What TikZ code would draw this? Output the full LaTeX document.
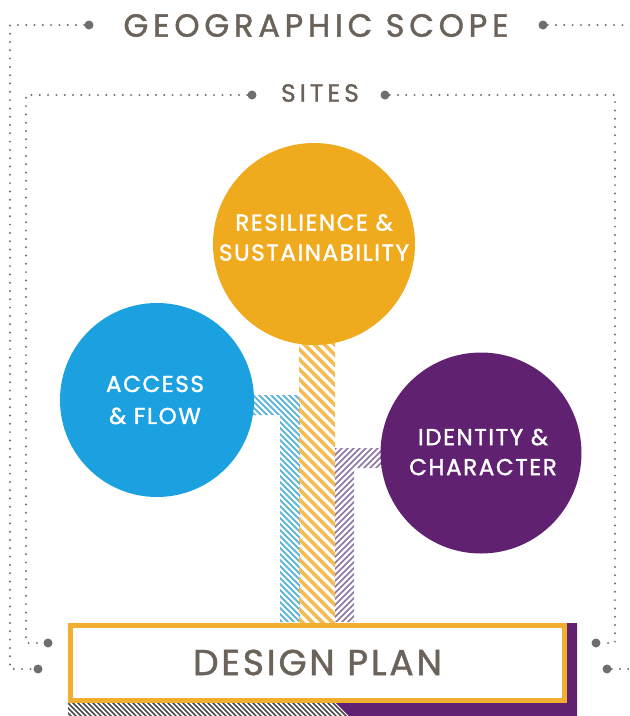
\documentclass[tikz,border=0pt]{standalone}
\usepackage{fontspec}
\setmainfont{Poppins}
\newfontfamily\headfont[LetterSpace=15,FakeBold=1.3]{Poppins}
\newfontfamily\sitesfont[LetterSpace=16,FakeBold=1.3]{Poppins}
\newfontfamily\planfont[LetterSpace=8,FakeBold=1.3]{Poppins}
\newfontfamily\circfont[LetterSpace=7,FakeBold=1.6]{Poppins}
\definecolor{txtgray}{HTML}{6B6259}
\definecolor{dotgray}{HTML}{6E6E6E}
\definecolor{corange}{HTML}{F0AA1E}
\definecolor{cblue}{HTML}{1BA0E0}
\definecolor{cpurple}{HTML}{5F2170}
\definecolor{borange}{HTML}{F2AE30}
\definecolor{sorange}{HTML}{F3BC55}
\definecolor{sblue}{HTML}{62B6DA}
\definecolor{spurple}{HTML}{8C74A2}
\definecolor{shatch}{HTML}{4A4A4A}
\tikzset{
  dotline/.style={draw=dotgray, line width=2.2pt, line cap=round, dash pattern=on 0pt off 8.3pt},
  bigdot/.style={circle, fill=dotgray, inner sep=0pt, minimum size=9pt},
  bubble/.style={circle, inner sep=0pt, minimum size=#1},
  bubtext/.style={text=white, font=\circfont\fontsize{23}{28}\selectfont, align=center, inner sep=0pt},
  headtext/.style={text=txtgray, inner sep=0pt},
}
\begin{document}
\begin{tikzpicture}[x=1pt,y=-1pt]
\useasboundingbox (0,0) rectangle (630,716);

% ---- outer frame: geographic scope
\node[headtext, font=\headfont\fontsize{32}{36}\selectfont] (geo) at (316,25.5) {GEOGRAPHIC SCOPE};
\node[bigdot] (gdl) at (89,25) {};
\node[bigdot] (gdr) at (543,25) {};
\node[bigdot] (gbl) at (38,669) {};
\node[bigdot] (gbr) at (607,669) {};
\coordinate (gtl) at (10,25);
\coordinate (gblc) at (10,669);
\coordinate (gtr) at (640,25);
\coordinate (gbrc) at (640,669);
\draw[dotline] (gdl) -- (gtl) -- (gblc) -- (gbl);
\draw[dotline] (gdr) -- (gtr);
\draw[dotline] (gbr) -- (gbrc);

% ---- inner frame: sites
\node[headtext, font=\sitesfont\fontsize{25}{30}\selectfont] (sites) at (320,93) {SITES};
\node[bigdot] (sdl) at (252,95) {};
\node[bigdot] (sdr) at (385,95) {};
\node[bigdot] (sbl) at (48,643) {};
\node[bigdot] (sbr) at (596,643) {};
\coordinate (stl) at (26,95);
\coordinate (sblc) at (26,643);
\coordinate (str) at (615,95);
\coordinate (sbrc) at (615,643);
\draw[dotline] (sdl) -- (stl) -- (sblc) -- (sbl);
\draw[dotline] (sdr) -- (str) -- (sbrc) -- (sbr);

% ---- striped links
\begin{scope}
  \clip (280,395) rectangle (300,622) (230,395) rectangle (300,415);
  \foreach \c in {-400,-394,...,-80} \draw[sblue, line width=1.9pt] (\c+380,380) -- (\c+640,640);
\end{scope}
\begin{scope}
  \clip (299,320) rectangle (335,622);
  \foreach \c in {-340,-330,...,40} \draw[sorange, line width=3.8pt] (\c+310,310) -- (\c+640,640);
\end{scope}
\begin{scope}
  \clip (335,448) rectangle (354,622) (335,448) rectangle (400,468);
  \foreach \c in {760,766,...,1000} \draw[spurple, line width=1.6pt] (\c-430,430) -- (\c-640,640);
\end{scope}

% ---- circles
\node[bubble=202pt, fill=corange] (res) at (314,244) {};
\node[bubble=194pt, fill=cblue] (acc) at (157,400) {};
\node[bubble=201pt, fill=cpurple] (ide) at (481,453) {};
\node[bubtext] (restext) at (314,237.5) {RESILIENCE \&\\[2pt]SUSTAINABILITY};
\node[bubtext] (acctext) at (155,400) {ACCESS\\[4pt]\& FLOW};
\node[bubtext] (idetext) at (483,452) {IDENTITY \&\\[2pt]CHARACTER};

% ---- design plan base
\fill[cpurple] (335,623) -- (577,623) -- (577,716) -- (349,716) -- (335,702) -- cycle;
\begin{scope}
  \clip (68,702) -- (335,702) -- (349,716) -- (68,716) -- cycle;
  \foreach \c in {-720,-715,...,-320} \draw[shatch, line width=1.5pt] (\c+690,690) -- (\c+730,730);
\end{scope}
\node[draw=borange, line width=5pt, fill=white, minimum width=494pt, minimum height=75pt, inner sep=0pt,
      text=txtgray, font=\planfont\fontsize{36}{40}\selectfont] (plan) at (317.5,662.5) {DESIGN PLAN};
\end{tikzpicture}
\end{document}
